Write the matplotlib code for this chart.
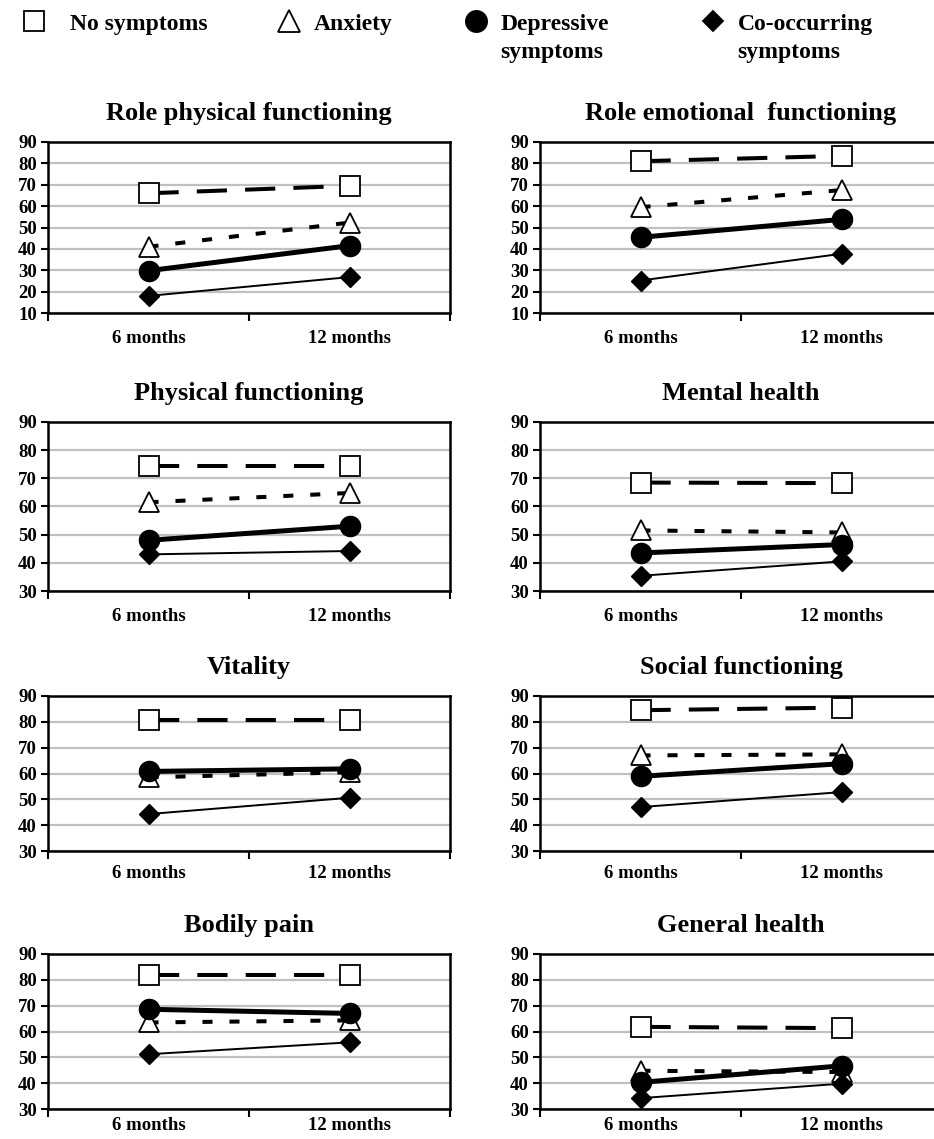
import matplotlib
matplotlib.use("Agg")
import matplotlib.pyplot as plt
from matplotlib.lines import Line2D

plt.rcParams['font.family'] = ['Liberation Serif', 'DejaVu Serif']
plt.rcParams['font.weight'] = 'bold'

# =========================
# data
# =========================
titles = ["Role physical functioning", "Role emotional  functioning",
          "Physical functioning", "Mental health",
          "Vitality", "Social functioning",
          "Bodily pain", "General health"]
months = ["6 months", "12 months"]
group_names = ["No symptoms", "Anxiety", "Depressive\nsymptoms", "Co-occurring\nsymptoms"]

no_symptoms = [[66, 69.5], [81, 83.5], [74.5, 74.5], [68.5, 68.3],
               [80.8, 80.8], [84.5, 85.5], [81.7, 81.7], [61.8, 61.3]]
anxiety = [[41, 52.3], [59.5, 67.5], [61.5, 64.8], [51.5, 50.8],
           [58.5, 60.5], [67, 67.4], [63.5, 64.3], [44.8, 44.3]]
depressive = [[29.8, 41.5], [45.4, 53.8], [48, 53], [43.5, 46.5],
              [60.8, 61.8], [58.9, 63.8], [68.6, 67], [40.3, 46.7]]
cooccurring = [[18, 26.8], [25.2, 37.7], [43, 44.2], [35.4, 40.5],
               [44.3, 50.6], [47, 52.8], [51.2, 55.8], [34.2, 39.8]]

ymins = [10, 10, 30, 30, 30, 30, 30, 30]

# =========================
# styles
# =========================
styles = [
    dict(color='black', lw=2.9, linestyle=(0, (7.5, 4.5)), marker='s', ms=14,
         mfc='white', mec='black', mew=1.3),
    dict(color='black', lw=2.9, linestyle=(0, (2.5, 4.2)), marker='^', ms=15,
         mfc='white', mec='black', mew=1.3),
    dict(color='black', lw=3.6, linestyle='-', marker='o', ms=14.5,
         mfc='black', mec='black'),
    dict(color='black', lw=1.4, linestyle='-', marker='D', ms=10,
         mfc='black', mec='black'),
]
series = [no_symptoms, anxiety, depressive, cooccurring]

W, H = 934, 1139
fig = plt.figure(figsize=(W / 100, H / 100), dpi=100)

col_x = [48, 540]
row_y = [(142, 313), (422, 591), (696, 851), (954, 1109)]
row_pad = [12, 12, 10, 6]
ax_w = 402

for i, title in enumerate(titles):
    r, c = divmod(i, 2)
    top, bot = row_y[r]
    ax = fig.add_axes([col_x[c] / W, 1 - bot / H, ax_w / W, (bot - top) / H])

    ax.set_ylim(ymins[i], 90)
    ax.set_xlim(0, 2)
    ax.set_yticks(range(ymins[i], 91, 10))
    ax.yaxis.grid(True, color='#c0c0c0', lw=1.6)
    ax.set_axisbelow(True)

    xs = [0.5, 1.5]
    for s, st in zip(series, styles):
        ax.plot(xs, s[i], clip_on=False, **st)

    ax.set_xticks([0, 1, 2])
    ax.set_xticklabels([])
    ax.set_xticks(xs, minor=True)
    ax.set_xticklabels(months, minor=True)
    ax.tick_params(axis='x', which='major', length=6, width=1.5, direction='out')
    ax.tick_params(axis='x', which='minor', length=0, pad=row_pad[r], labelsize=13.5)
    ax.tick_params(axis='y', length=5, width=1.5, labelsize=13.5, pad=3)
    for lab in ax.get_xticklabels(minor=True) + ax.get_yticklabels():
        lab.set_fontweight('bold')

    for sp in ax.spines.values():
        sp.set_linewidth(1.8)

    ax.set_title(title, fontsize=19, fontweight='bold', pad=16)

# =========================
# legend on top
# =========================
leg_x = [34, 289, 476, 713]
leg_gap = [1.05, 0.55, 0.55, 0.55]
legends = []
for name, st, lx, gap in zip(group_names, styles, leg_x, leg_gap):
    first = name.split("\n")[0]
    h = Line2D([], [], linestyle='none', marker=st['marker'], ms=st['ms'] * 1.05,
               mfc=st['mfc'], mec=st['mec'], mew=1.3)
    leg = fig.legend([h], [first], loc='upper left',
                     bbox_to_anchor=((lx - 12) / W, 1 - 13 / H),
                     frameon=False, borderpad=0, borderaxespad=0,
                     handlelength=1.0, handletextpad=gap,
                     prop=dict(size=17, weight='bold'))
    legends.append((leg, name))

fig.canvas.draw()
for leg, name in legends:
    lines = name.split("\n")
    if len(lines) > 1:
        bb = leg.get_texts()[0].get_window_extent()
        fig.text(bb.x0 / W, (bb.y0 - 28) / H, lines[1], fontsize=17,
                 fontweight='bold', ha='left', va='bottom')

fig.savefig("out.png", dpi=100)
